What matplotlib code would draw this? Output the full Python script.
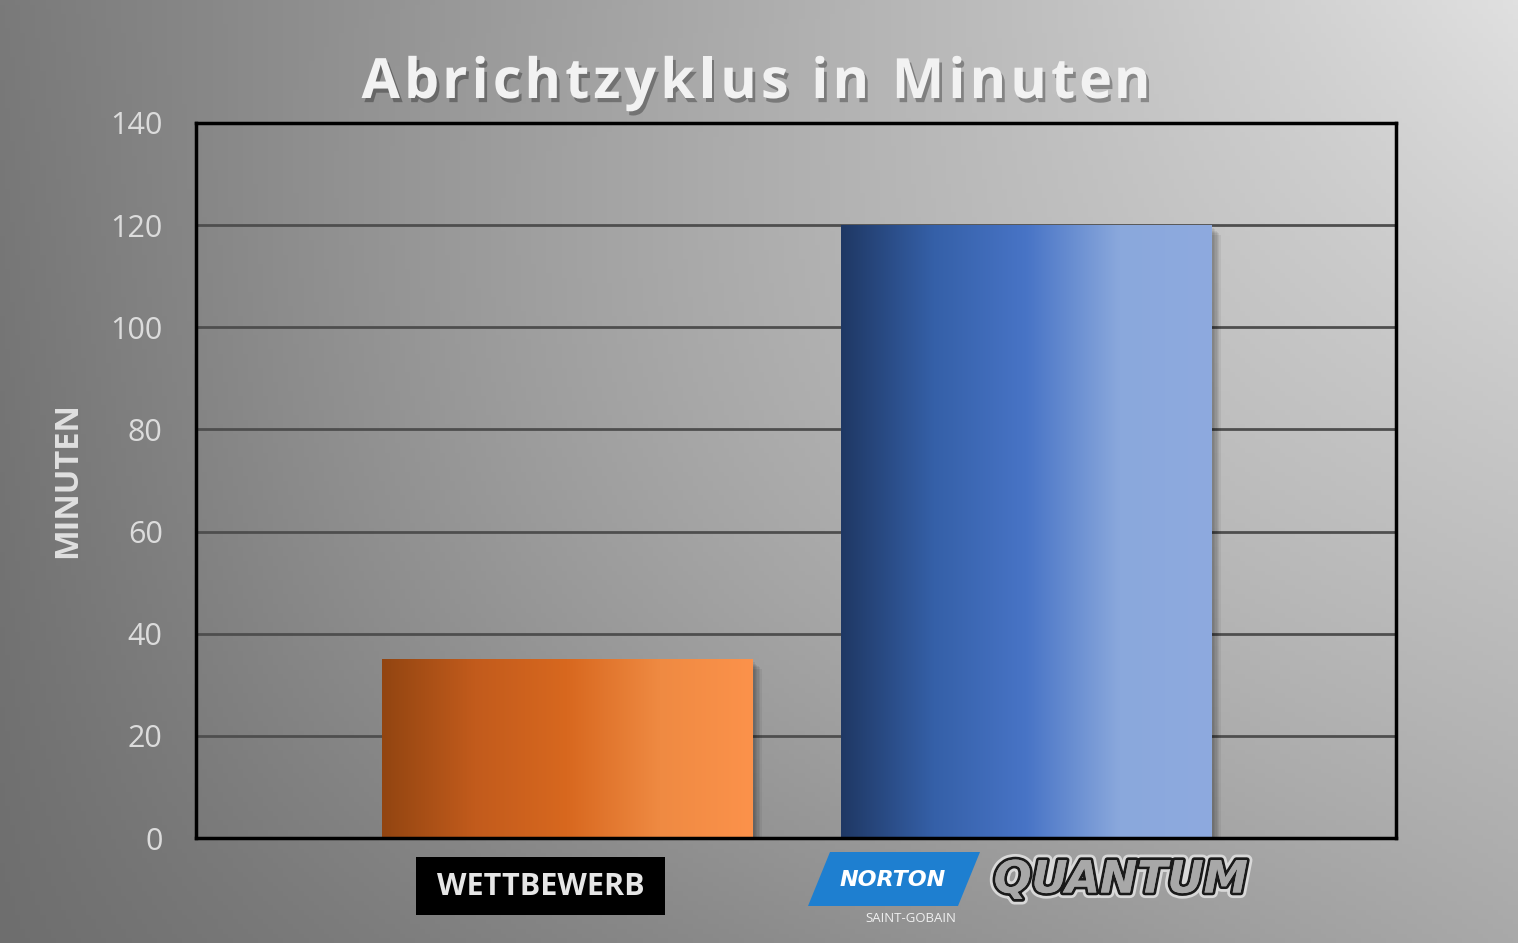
import numpy as np
import matplotlib
matplotlib.use("Agg")
import matplotlib.pyplot as plt
import matplotlib.patheffects as pe
from matplotlib.patches import Polygon, Rectangle
from matplotlib.colors import LinearSegmentedColormap

# data
categories = ["WETTBEWERB", "NORTON QUANTUM"]
values = [35, 120]
yticks = [0, 20, 40, 60, 80, 100, 120, 140]
title = "Abrichtzyklus in Minuten"

W, H = 1518, 943
fig = plt.figure(figsize=(W / 100, H / 100), dpi=100)

# background gradient (bilinear between corner greys)
bg = fig.add_axes([0, 0, 1, 1], zorder=-10)
gx = np.linspace(0, 1, 300)
gy = np.linspace(0, 1, 200)
X, Y = np.meshgrid(gx, gy)  # Y=0 bottom
bl, br, tl, tr = 110, 169, 122, 224
grey = (bl * (1 - X) * (1 - Y) + br * X * (1 - Y) + tl * (1 - X) * Y + tr * X * Y) / 255
grey = grey + 0.05 * np.sin(np.pi * X) * np.sin(np.pi * Y)
bg.imshow(np.dstack([grey, grey, grey]), origin="lower", extent=[0, 1, 0, 1], aspect="auto")
bg.set_xlim(0, 1)
bg.set_ylim(0, 1)
bg.axis("off")

ax = fig.add_axes([196 / W, 1 - 838 / H, 1200 / W, 715 / H])
ax.set_facecolor("none")

x = np.arange(len(categories))
width = 0.806
bars = ax.bar(x, values, width=width, color="none", zorder=3)

grads = [
    ["#924511", "#c25b1c", "#d8681f", "#ef8a42", "#fc924b"],
    ["#1f3864", "#3560a8", "#4874c6", "#8aa8dc", "#8eaadf"],
]
for b, cols in zip(bars, grads):
    x0, y0 = b.get_x(), b.get_y()
    w, h = b.get_width(), b.get_height()
    # soft shadow
    for k in range(6):
        off = 0.006 + k * 0.003
        ax.add_patch(Rectangle((x0 + off, y0 - 0.6 - k * 0.25), w, h, color="black",
                               alpha=0.06, lw=0, zorder=2))
    cmap = LinearSegmentedColormap.from_list("g", cols)
    im = ax.imshow(np.linspace(0, 1, 256).reshape(1, -1), cmap=cmap, aspect="auto",
                   extent=[x0, x0 + w, y0, y0 + h], zorder=3)
    im.set_clip_path(b)

ax.set_xlim(-0.808, 1.806)
ax.set_ylim(0, 140)
ax.set_yticks(yticks)
ax.set_yticklabels([str(t) for t in yticks])
ax.tick_params(axis="y", length=0, pad=24, labelsize=22, labelcolor="#dcdcdc")
for lab in ax.get_yticklabels():
    lab.set_family("Open Sans")
ax.set_xticks([])
ax.grid(axis="y", color="#4e4e4e", linewidth=2, zorder=1)
ax.set_axisbelow(True)
for s in ax.spines.values():
    s.set_color("black")
    s.set_linewidth(2.5)
    s.set_zorder(4)

ax.set_ylabel("MINUTEN", fontsize=23.5, fontweight="bold", color="#e0e0e0",
              family="Open Sans")
ax.yaxis.set_label_coords(-0.093, 0.5)

# title, drawn letter by letter to get the wide tracking
renderer = fig.canvas.get_renderer()
tprops = dict(fontsize=40, fontweight="bold", family="Open Sans")


def text_w(s):
    t = fig.text(0, 0, s, **tprops)
    wpx = t.get_window_extent(renderer).width
    t.remove()
    return wpx


base = text_w("xx")
widths = [text_w("x" + c + "x") - base for c in title]
track = 4.2
total = sum(widths) + track * (len(title) - 1)
cx = 756 - total / 2
for c, wc in zip(title, widths):
    if c != " ":
        fig.text(cx / W, 1 - 98 / H, c, ha="left", va="baseline", color="#f2f2f2",
                 path_effects=[pe.withSimplePatchShadow(offset=(2, -3), shadow_rgbFace="black",
                                                        alpha=0.3)],
                 **tprops)
    cx += wc + track

# x labels
fig.patches.append(Rectangle((416 / W, 1 - 915 / H), 249 / W, 58 / H,
                             transform=fig.transFigure, facecolor="black", edgecolor="none"))
fig.text(541 / W, 1 - 887 / H, categories[0], ha="center", va="center", fontsize=22,
         fontweight="bold", color="#e6e6e6", family="Open Sans")

# Norton logo
poly = Polygon([[830 / W, 1 - 852 / H], [980 / W, 1 - 852 / H],
                [958 / W, 1 - 906 / H], [808 / W, 1 - 906 / H]],
               closed=True, transform=fig.transFigure, facecolor="#1e7fd0",
               edgecolor="none")
fig.patches.append(poly)
fig.text(893 / W, 1 - 880 / H, "NORTON", ha="center", va="center", fontsize=16,
         fontweight="bold", fontstyle="italic", color="white", family="DejaVu Sans")
fig.text(911 / W, 1 - 918 / H, "SAINT-GOBAIN", ha="center", va="center", fontsize=9.5,
         color="#f0f0f0", family="Open Sans")
fig.text(1121 / W, 1 - 880 / H, "QUANTUM", ha="center", va="center", fontsize=32,
         fontweight="heavy", fontstyle="italic", color="#a8a8a8", family="DejaVu Sans",
         path_effects=[pe.withStroke(linewidth=8, foreground="#d8d8d8"),
                       pe.withStroke(linewidth=4, foreground="#1a1a1a"),
                       pe.Normal()])

fig.savefig("out.png", dpi=100)
